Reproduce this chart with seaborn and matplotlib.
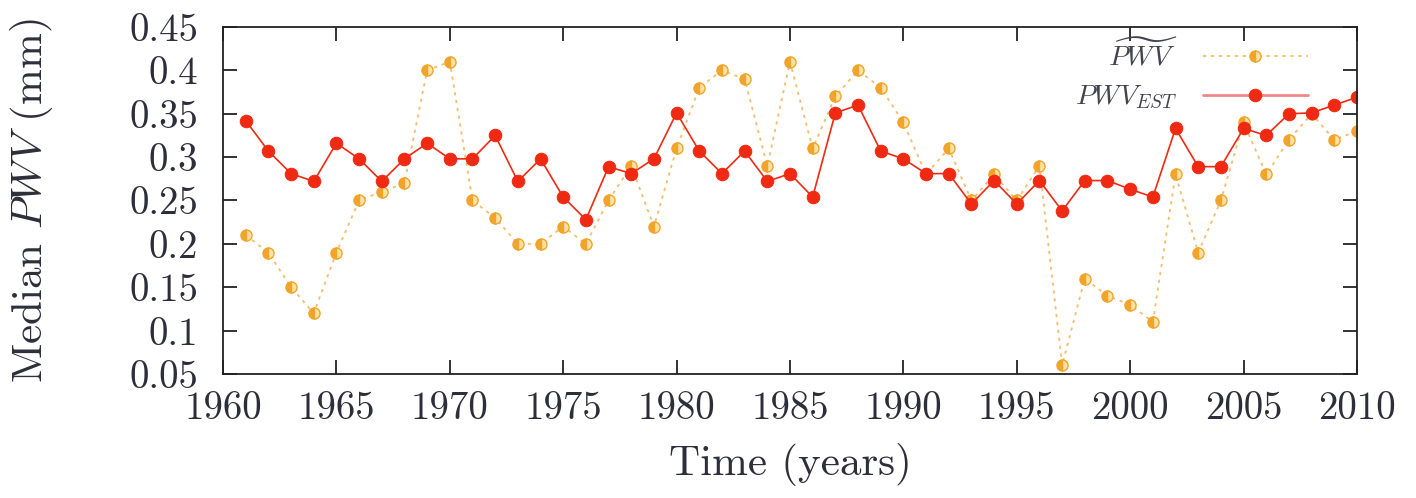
import matplotlib
matplotlib.use("Agg")
import matplotlib.pyplot as plt
import seaborn as sns
import pandas as pd

# Yearly medians of precipitable water vapour
years = list(range(1961, 2011))
pwv_median = [0.21, 0.19, 0.15, 0.12, 0.19, 0.25, 0.26, 0.27, 0.40, 0.41,
              0.25, 0.23, 0.20, 0.20, 0.22, 0.20, 0.25, 0.29, 0.22, 0.31,
              0.38, 0.40, 0.39, 0.29, 0.41, 0.31, 0.37, 0.40, 0.38, 0.34,
              0.28, 0.31, 0.25, 0.28, 0.25, 0.29, 0.06, 0.16, 0.14, 0.13,
              0.11, 0.28, 0.19, 0.25, 0.34, 0.28, 0.32, 0.35, 0.32, 0.33]
pwv_est = [0.342, 0.307, 0.281, 0.272, 0.316, 0.298, 0.272, 0.298, 0.316, 0.298,
           0.298, 0.325, 0.272, 0.298, 0.254, 0.228, 0.289, 0.281, 0.298, 0.351,
           0.307, 0.281, 0.307, 0.272, 0.281, 0.254, 0.351, 0.360, 0.307, 0.298,
           0.281, 0.281, 0.246, 0.273, 0.246, 0.273, 0.238, 0.273, 0.273, 0.263,
           0.254, 0.333, 0.289, 0.289, 0.333, 0.325, 0.350, 0.351, 0.360, 0.369]

y_ticks = [0.05, 0.1, 0.15, 0.2, 0.25, 0.3, 0.35, 0.4, 0.45]
y_tick_labels = ["0.05", "0.1", "0.15", "0.2", "0.25", "0.3", "0.35", "0.4", "0.45"]
x_ticks = list(range(1960, 2011, 5))

df = pd.DataFrame({"year": years, "median": pwv_median, "est": pwv_est})

sns.set_theme(style="ticks")
plt.rcParams["font.family"] = ["cmr10", "DejaVu Serif"]
plt.rcParams["mathtext.fontset"] = "cm"
plt.rcParams["axes.formatter.use_mathtext"] = True

fig = plt.figure(figsize=(14.16, 4.98), dpi=100)
ax = fig.add_axes([0.1575, 0.249, 0.8008, 0.6968])

orange = "#F2A42A"
orange_line = "#F5BE6E"
red = "#F02A12"
text_col = "#2E2E3A"

sns.lineplot(data=df, x="year", y="median", ax=ax, color=orange_line,
             linestyle=(0, (1.8, 2.6)), linewidth=1.3, marker="o",
             markersize=8, fillstyle="left", markerfacecolor=orange,
             markerfacecoloralt="#FCE2A6", markeredgecolor=orange,
             markeredgewidth=1.0, label=r"$\widetilde{PWV}$")
sns.lineplot(data=df, x="year", y="est", ax=ax, color=red,
             linewidth=1.2, marker="o", markersize=9,
             markerfacecolor=red, markeredgecolor=red,
             label=r"$PWV_{EST}$")

ax.set_xlim(1960, 2010)
ax.set_ylim(0.05, 0.45)
ax.set_xticks(x_ticks)
ax.set_xticklabels([str(t) for t in x_ticks])
ax.set_yticks(y_ticks)
ax.set_yticklabels(y_tick_labels)
ax.tick_params(direction="in", length=10, width=1.3, top=True, right=True,
               labelsize=28, colors="#222222", labelcolor=text_col)
ax.tick_params(axis="y", pad=18)
ax.tick_params(axis="x", pad=12)
for side in ax.spines.values():
    side.set_linewidth(1.3)
    side.set_color("#222222")

ax.set_xlabel("Time (years)", fontsize=31, color=text_col)
ax.set_ylabel(r"Median $PWV$ (mm)", fontsize=31, color=text_col)
ax.xaxis.set_label_coords(0.5, -0.2)
ax.yaxis.set_label_coords(-0.148, 0.5)

leg = ax.legend(loc="upper right", bbox_to_anchor=(0.957, 0.965), frameon=False,
                markerfirst=False, fontsize=20, handlelength=3.8,
                labelspacing=0.45, handletextpad=0.9, borderpad=0,
                borderaxespad=0)
leg.get_lines()[1].set_color("#EC8A8A")
leg.get_lines()[1].set_linewidth(2.0)
for t in leg.get_texts():
    t.set_color("#444450")

fig.savefig("out.png", dpi=100)
